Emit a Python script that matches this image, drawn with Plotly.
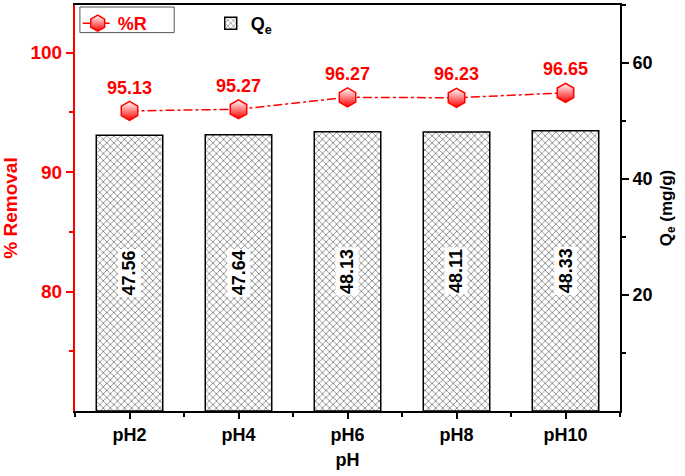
import plotly.graph_objects as go

RED = "#FF0000"
BLACK = "#000000"
FONT = "Liberation Sans"

categories = ["pH2", "pH4", "pH6", "pH8", "pH10"]
removal = [95.13, 95.27, 96.27, 96.23, 96.65]
qe = [47.56, 47.64, 48.13, 48.11, 48.33]

x_pos = list(range(len(categories)))

fig = go.Figure()

fig.add_trace(
    go.Bar(
        x=x_pos,
        y=qe,
        yaxis="y2",
        name="Q<sub>e</sub>",
        width=0.61,
        marker=dict(
            color="white",
            line=dict(color=BLACK, width=1.5),
            pattern=dict(shape="x", fgcolor=BLACK, bgcolor="white", size=5, solidity=0.3),
        ),
        legendrank=2,
    )
)

fig.add_trace(
    go.Scatter(
        x=x_pos,
        y=removal,
        yaxis="y",
        name="<span style='color:#FF0000'>%R</span>",
        mode="lines+markers+text",
        text=[f"{v:.2f}" for v in removal],
        textposition="top center",
        textfont=dict(color=RED, size=18, family=FONT, weight="bold"),
        line=dict(color=RED, width=1.5, dash="dashdot"),
        marker=dict(
            symbol="hexagon",
            size=19,
            color="white",
            line=dict(color=RED, width=1.5),
            gradient=dict(type="vertical", color=RED),
        ),
        legendrank=1,
    )
)

for xv, v in zip(x_pos, qe):
    fig.add_annotation(
        x=xv,
        y=v / 2,
        yref="y2",
        text=f"{v:.2f}",
        textangle=-90,
        showarrow=False,
        bgcolor="white",
        borderpad=1,
        font=dict(color=BLACK, size=18, family=FONT, weight="bold"),
    )

# box round the %R legend entry, as in the original
fig.add_shape(
    type="rect",
    xref="paper",
    yref="paper",
    x0=0.009,
    x1=0.182,
    y0=0.932,
    y1=0.995,
    line=dict(color="#555555", width=1),
)

fig.update_layout(
    width=685,
    height=476,
    paper_bgcolor="white",
    plot_bgcolor="white",
    font=dict(family=FONT, color=BLACK, size=17),
    margin=dict(l=72, r=65, t=3, b=65),
    showlegend=True,
    legend=dict(
        orientation="h",
        x=0.005,
        y=1.0,
        xanchor="left",
        yanchor="top",
        entrywidth=88,
        bgcolor="rgba(0,0,0,0)",
        font=dict(size=18, family=FONT, weight="bold"),
    ),
    xaxis=dict(
        range=[-0.5, len(categories) - 0.5],
        tickvals=x_pos,
        ticktext=categories,
        ticks="outside",
        ticklen=6,
        tickwidth=2,
        tickcolor=BLACK,
        minor=dict(tick0=-0.5, dtick=1, ticks="outside", ticklen=4, tickwidth=2, tickcolor=BLACK),
        showline=True,
        linecolor=BLACK,
        linewidth=2,
        mirror=True,
        showgrid=False,
        zeroline=False,
        tickfont=dict(size=18, weight="bold", color=BLACK),
        title=dict(text="pH", font=dict(size=18, weight="bold"), standoff=10),
    ),
    yaxis=dict(
        range=[70, 104],
        tickvals=[80, 90, 100],
        ticks="outside",
        ticklen=7,
        tickwidth=2,
        tickcolor=RED,
        minor=dict(tick0=75, dtick=10, ticks="outside", ticklen=4, tickwidth=2, tickcolor=RED),
        showline=True,
        linecolor=RED,
        linewidth=2,
        showgrid=False,
        zeroline=False,
        tickfont=dict(size=19, weight="bold", color=RED),
        title=dict(text="% Removal", font=dict(size=19, weight="bold", color=RED), standoff=14),
    ),
    yaxis2=dict(
        range=[0, 70],
        overlaying="y",
        side="right",
        tickvals=[20, 40, 60],
        ticks="outside",
        ticklen=7,
        tickwidth=2,
        tickcolor=BLACK,
        minor=dict(tick0=10, dtick=20, ticks="outside", ticklen=4, tickwidth=2, tickcolor=BLACK),
        showline=True,
        linecolor=BLACK,
        linewidth=2,
        showgrid=False,
        zeroline=False,
        tickfont=dict(size=18, weight="bold", color=BLACK),
        title=dict(text="Q<sub>e</sub> (mg/g)", font=dict(size=17, weight="bold"), standoff=8),
    ),
)

# the page's default body margin would push the fixed-size figure off the window
fig.write_html(
    "out.html",
    config={"displayModeBar": False},
    post_script="document.body.style.margin='0';",
)
